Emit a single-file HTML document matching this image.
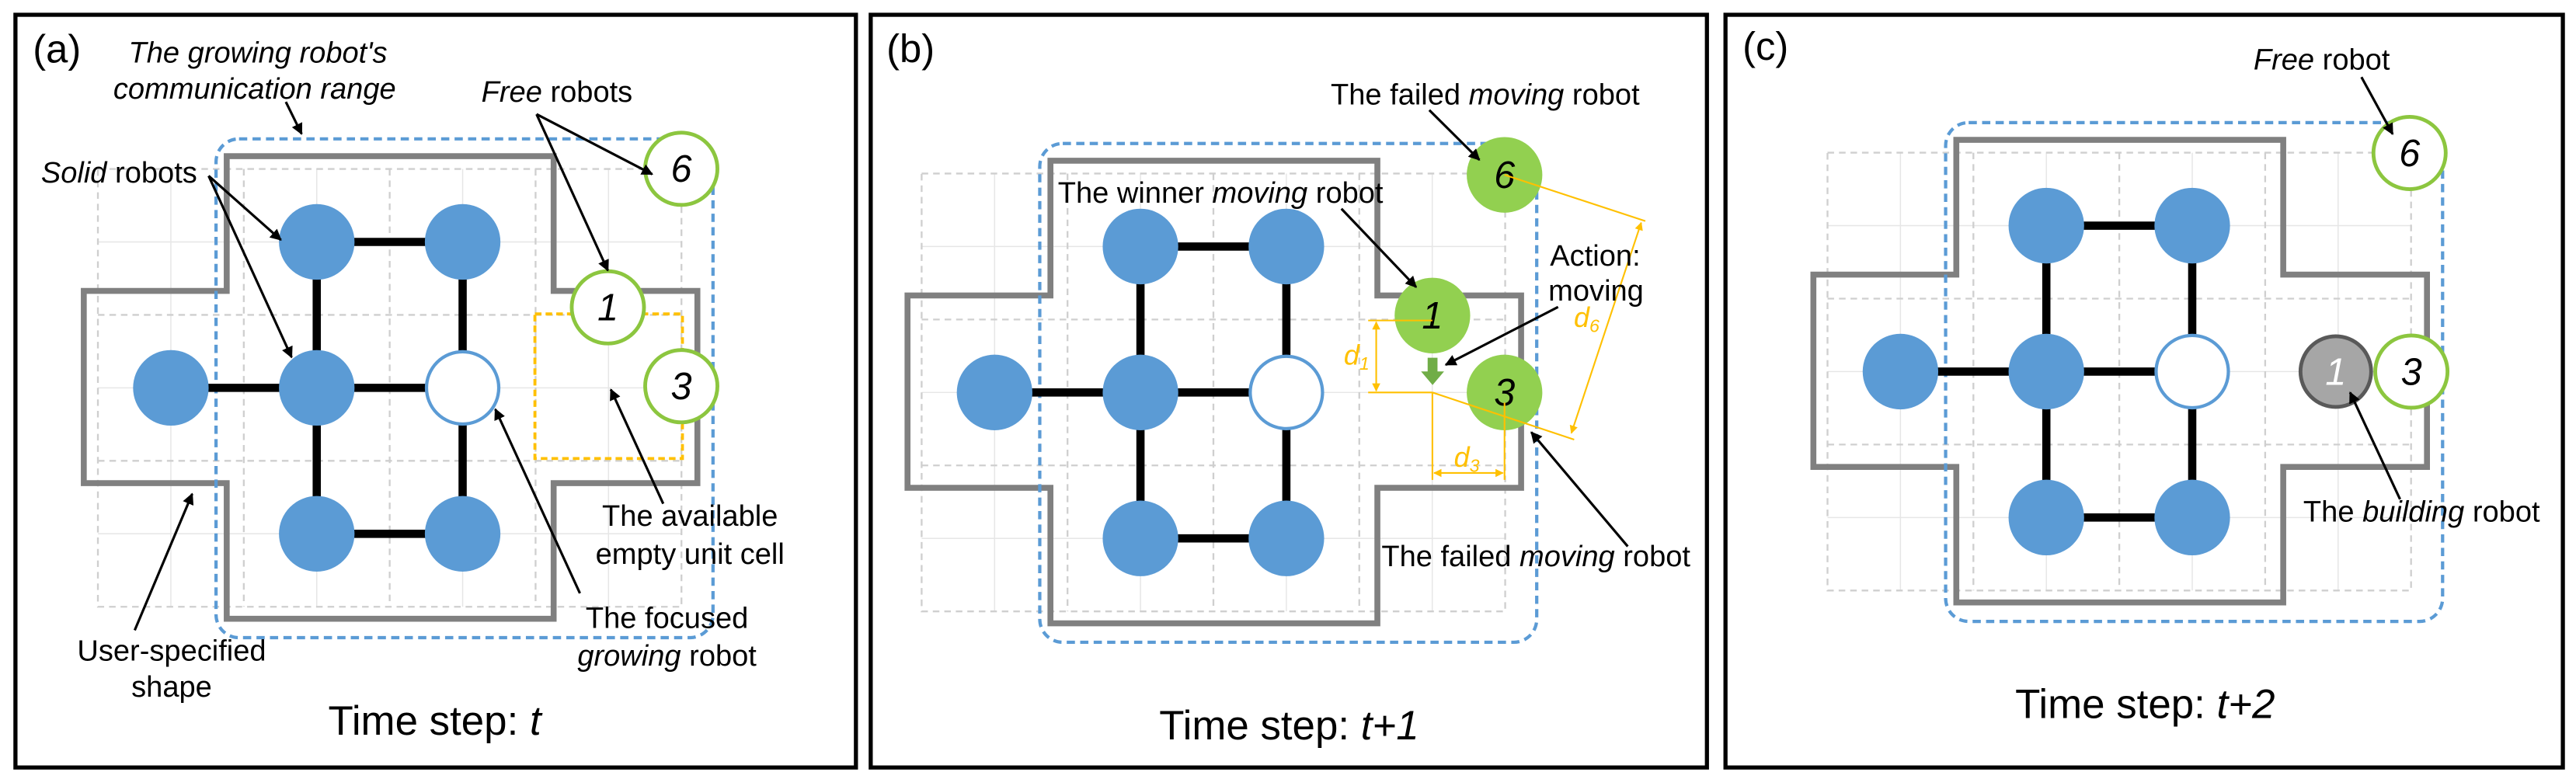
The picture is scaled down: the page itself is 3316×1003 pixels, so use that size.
<!DOCTYPE html>
<html><head><meta charset="utf-8"><style>
html,body{margin:0;padding:0;background:#fff;}
svg{display:block;}
text{font-family:"Liberation Sans",Arial,sans-serif;fill:#000;}
</style></head><body>
<svg width="3316" height="1003" viewBox="0 0 1568 474" preserveAspectRatio="none" xmlns="http://www.w3.org/2000/svg">
<defs>
<marker id="ah" viewBox="0 0 10 10" refX="9" refY="5" markerWidth="7" markerHeight="7" orient="auto" markerUnits="userSpaceOnUse"><path d="M0,0 L10,5 L0,10 z" fill="#000"/></marker>
<marker id="oh" viewBox="0 0 10 10" refX="9" refY="5" markerWidth="5" markerHeight="5" orient="auto-start-reverse" markerUnits="userSpaceOnUse"><path d="M0,0 L10,5 L0,10 z" fill="#ffc000"/></marker>
<g id="base">
  <!-- faint lines through centers -->
  <g stroke="#e6e6e6" stroke-width="0.7">
    <line x1="-44.4" y1="-88.8" x2="310.8" y2="-88.8"/><line x1="-44.4" y1="0" x2="310.8" y2="0"/><line x1="-44.4" y1="88.8" x2="310.8" y2="88.8"/>
    <line x1="0" y1="-133.2" x2="0" y2="133.2"/><line x1="88.8" y1="-133.2" x2="88.8" y2="133.2"/><line x1="177.6" y1="-133.2" x2="177.6" y2="133.2"/><line x1="266.4" y1="-133.2" x2="266.4" y2="133.2"/>
  </g>
  <g stroke="#cfcfcf" stroke-width="1.1" stroke-dasharray="4 3" fill="none">
    <rect x="-44.4" y="-133.2" width="355.2" height="266.4"/>
    <line x1="-44.4" y1="-44.4" x2="310.8" y2="-44.4"/><line x1="-44.4" y1="44.4" x2="310.8" y2="44.4"/>
    <line x1="44.4" y1="-133.2" x2="44.4" y2="133.2"/><line x1="133.2" y1="-133.2" x2="133.2" y2="133.2"/><line x1="222" y1="-133.2" x2="222" y2="133.2"/>
  </g>
  <path d="M34,-141 H233 V-59 H320.5 V58 H233 V140.5 H34 V58 H-53 V-59 H34 Z" fill="none" stroke="#808080" stroke-width="3.6"/>
  <rect x="27.5" y="-151.5" width="302.5" height="303.5" rx="14" fill="none" stroke="#5b9bd5" stroke-width="2" stroke-dasharray="5 3.2"/>
  <g stroke="#000" stroke-width="5">
    <line x1="0" y1="0" x2="177.6" y2="0"/>
    <line x1="88.8" y1="-88.8" x2="177.6" y2="-88.8"/>
    <line x1="88.8" y1="88.8" x2="177.6" y2="88.8"/>
    <line x1="88.8" y1="-88.8" x2="88.8" y2="88.8"/>
    <line x1="177.6" y1="-88.8" x2="177.6" y2="88.8"/>
  </g>
  <g fill="#5b9bd5">
    <circle cx="0" cy="0" r="23"/><circle cx="88.8" cy="0" r="23"/>
    <circle cx="88.8" cy="-88.8" r="23"/><circle cx="177.6" cy="-88.8" r="23"/>
    <circle cx="88.8" cy="88.8" r="23"/><circle cx="177.6" cy="88.8" r="23"/>
  </g>
  <circle cx="177.6" cy="0" r="22" fill="#fff" stroke="#5b9bd5" stroke-width="2"/>
</g>
</defs>

<!-- panel boxes -->
<g fill="none" stroke="#000" stroke-width="2.5">
  <rect x="9.4" y="9" width="511.6" height="458"/>
  <rect x="530" y="9" width="509" height="458"/>
  <rect x="1050.3" y="9" width="509.7" height="458"/>
</g>

<!-- ===== Panel A ===== -->
<use href="#base" transform="translate(104,236)"/>
<rect x="325.6" y="191" width="89.8" height="88" fill="none" stroke="#ffc000" stroke-width="1.8" stroke-dasharray="4 2.5"/>
<g fill="#fff" stroke="#8cc63f" stroke-width="2.3">
  <circle cx="414.7" cy="102.7" r="22"/><circle cx="370" cy="187" r="22"/><circle cx="414.7" cy="235" r="22"/>
</g>
<g font-size="23" font-style="italic" text-anchor="middle">
  <text x="414.7" y="110.7">6</text><text x="370" y="195">1</text><text x="414.7" y="243">3</text>
</g>
<text x="20" y="38" font-size="24">(a)</text>
<g font-size="18" font-style="italic" text-anchor="middle">
  <text x="157" y="38">The growing robot's</text>
  <text x="155" y="60">communication range</text>
</g>
<text x="293" y="62" font-size="18"><tspan font-style="italic">Free</tspan> robots</text>
<text x="25" y="111" font-size="18"><tspan font-style="italic">Solid</tspan> robots</text>
<g font-size="18" text-anchor="middle">
  <text x="420" y="320">The available</text>
  <text x="420" y="343">empty unit cell</text>
  <text x="406" y="382">The focused</text>
  <text x="406" y="405"><tspan font-style="italic">growing</tspan> robot</text>
  <text x="104.5" y="402">User-specified</text>
  <text x="104.5" y="424">shape</text>
</g>
<text x="264.6" y="447" font-size="25" text-anchor="middle">Time step: <tspan font-style="italic">t</tspan></text>
<g stroke="#000" stroke-width="1.5" marker-end="url(#ah)">
  <line x1="174" y1="62" x2="183.6" y2="81.5"/>
  <line x1="326.6" y1="69.5" x2="397" y2="106"/>
  <line x1="326.6" y1="69.5" x2="370" y2="164.6"/>
  <line x1="127" y1="107" x2="171" y2="146"/>
  <line x1="127" y1="107" x2="177.5" y2="217.4"/>
  <line x1="403.7" y1="306.5" x2="371.8" y2="237"/>
  <line x1="353" y1="361" x2="301.5" y2="249"/>
  <line x1="82" y1="383.5" x2="117" y2="300.5"/>
</g>

<!-- ===== Panel B ===== -->
<use href="#base" transform="translate(605.4,238.8)"/>
<g fill="#92d050">
  <circle cx="915.8" cy="106.4" r="23"/><circle cx="871.9" cy="192" r="23"/><circle cx="915.8" cy="238.8" r="23"/>
</g>
<g font-size="23" font-style="italic" text-anchor="middle">
  <text x="915.8" y="114.4">6</text><text x="871.9" y="200">1</text><text x="915.8" y="246.8">3</text>
</g>
<!-- green arrow -->
<path d="M869,217.7 H875 V226 H879 L872,234.3 L865,226 H869 Z" fill="#70ad47"/>
<!-- orange dims -->
<g stroke="#ffc000" stroke-width="1" fill="none">
  <line x1="832.8" y1="195" x2="871.9" y2="195"/>
  <line x1="832.8" y1="238.8" x2="871.9" y2="238.8"/>
  <line x1="837.7" y1="196" x2="837.7" y2="237.8" marker-start="url(#oh)" marker-end="url(#oh)"/>
  <line x1="871.9" y1="238.8" x2="871.9" y2="292"/>
  <line x1="915.8" y1="245" x2="915.8" y2="292"/>
  <line x1="872.9" y1="287.8" x2="914.8" y2="287.8" marker-start="url(#oh)" marker-end="url(#oh)"/>
  <line x1="871.9" y1="238.8" x2="958.2" y2="267.5"/>
  <line x1="915.8" y1="106.4" x2="1001.5" y2="134.5"/>
  <line x1="999" y1="135.5" x2="956.5" y2="263.5" marker-start="url(#oh)" marker-end="url(#oh)"/>
</g>
<g font-size="17" font-style="italic" fill="#ffc000" style="fill:#ffc000">
  <text x="818" y="222" style="fill:#ffc000">d<tspan font-size="11" dy="3">1</tspan></text>
  <text x="885" y="284" style="fill:#ffc000">d<tspan font-size="11" dy="3">3</tspan></text>
  <text x="958" y="199" style="fill:#ffc000">d<tspan font-size="11" dy="3">6</tspan></text>
</g>
<text x="539.6" y="37.8" font-size="24">(b)</text>
<g font-size="18">
  <text x="810" y="63.5">The failed <tspan font-style="italic">moving</tspan> robot</text>
  <text x="643.9" y="123.3">The winner <tspan font-style="italic">moving</tspan> robot</text>
  <text x="943.5" y="161.7">Action:</text>
  <text x="942.5" y="183">moving</text>
  <text x="840.9" y="344.6">The failed <tspan font-style="italic">moving</tspan> robot</text>
</g>
<text x="784.7" y="450" font-size="25" text-anchor="middle">Time step: <tspan font-style="italic">t+1</tspan></text>
<g stroke="#000" stroke-width="1.5" marker-end="url(#ah)">
  <line x1="870" y1="67" x2="900.5" y2="97.3"/>
  <line x1="816.5" y1="127" x2="862" y2="174.7"/>
  <line x1="948.4" y1="186.8" x2="880" y2="222"/>
  <line x1="990.8" y1="332.5" x2="932.1" y2="263"/>
</g>

<!-- ===== Panel C ===== -->
<use href="#base" transform="translate(1156.8,226.1)"/>
<g fill="#fff" stroke="#8cc63f" stroke-width="2.3">
  <circle cx="1466.7" cy="93.1" r="22"/><circle cx="1467.8" cy="226.1" r="22"/>
</g>
<circle cx="1421.8" cy="226.1" r="21.5" fill="#a6a6a6" stroke="#595959" stroke-width="2.3"/>
<g font-size="23" font-style="italic" text-anchor="middle">
  <text x="1466.7" y="101.1">6</text><text x="1467.8" y="234.1">3</text>
  <text x="1421.8" y="234.1" style="fill:#fff">1</text>
</g>
<text x="1060.7" y="36.3" font-size="24">(c)</text>
<g font-size="18">
  <text x="1371.7" y="42.3"><tspan font-style="italic">Free</tspan> robot</text>
  <text x="1402" y="317.4">The <tspan font-style="italic">building</tspan> robot</text>
</g>
<text x="1305.7" y="436.8" font-size="25" text-anchor="middle">Time step: <tspan font-style="italic">t+2</tspan></text>
<g stroke="#000" stroke-width="1.5" marker-end="url(#ah)">
  <line x1="1437.4" y1="46.9" x2="1456.4" y2="81.6"/>
  <line x1="1460.9" y1="303.8" x2="1430.5" y2="238.8"/>
</g>
</svg>
</body></html>
